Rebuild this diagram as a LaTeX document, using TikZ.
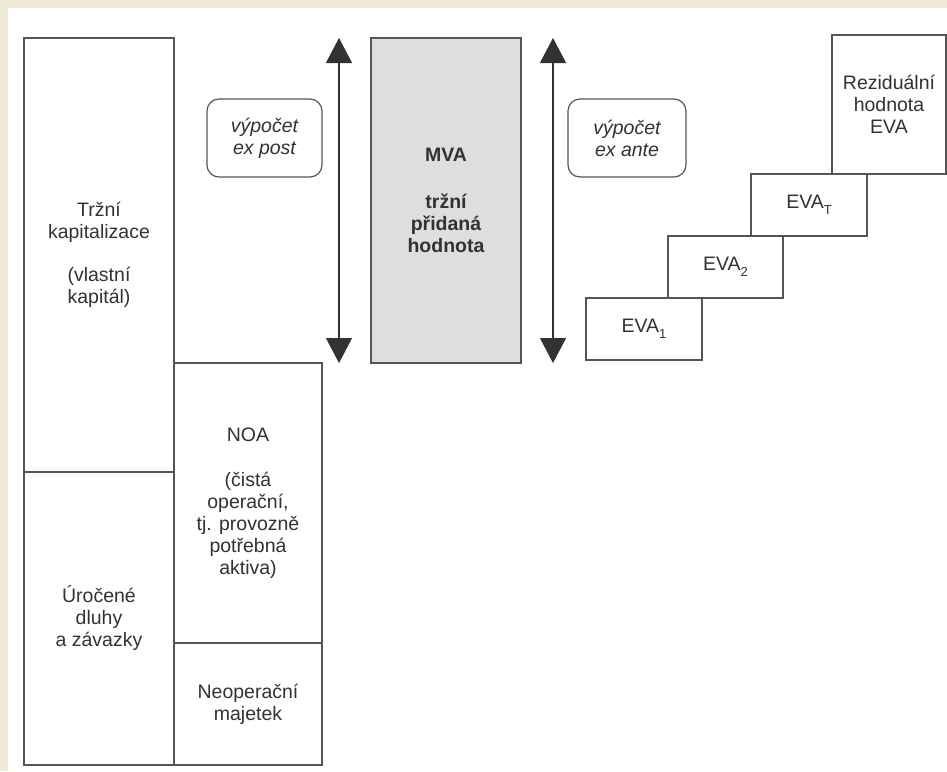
\documentclass[tikz,border=0pt]{standalone}
\usepackage{fontspec}
\setmainfont{Liberation Sans}
\usepackage{xcolor}
\usetikzlibrary{arrows.meta,positioning}

\definecolor{pagebeige}{RGB}{239,233,214}
\definecolor{inkgray}{RGB}{85,85,85}
\definecolor{textgray}{RGB}{50,50,50}
\definecolor{mvafill}{RGB}{222,222,222}
\newcommand{\evasub}[1]{\raisebox{-6pt}{\fontsize{13}{13}\selectfont#1}}

\begin{document}
\begin{tikzpicture}[
  x=1pt,y=-1pt,
  font=\fontsize{19.5}{22}\selectfont,
  text=textgray,
  box/.style={draw=inkgray,line width=1.2pt,align=center,inner sep=0pt},
  calc box/.style={box,rounded corners=12pt,font=\fontsize{19.5}{22}\selectfont\itshape},
  eva box/.style={box,minimum width=116,minimum height=62},
  span/.style={{Triangle[width=26pt,length=25pt]}-{Triangle[width=26pt,length=25pt]},line width=1.2pt,draw=textgray,fill=textgray}
]
\useasboundingbox (0,0) rectangle (947,771);
% scanned page with its beige margin
\fill[pagebeige] (0,0) rectangle (947,771);
\fill[white] (8,8) rectangle (947,771);

% balance sheet: liabilities left, assets right
\node[box,minimum width=150,minimum height=434] (cap) at (99,255) {Tržní\\kapitalizace\\[21pt](vlastní\\kapitál)};
\node[box,minimum width=150,minimum height=293] (debt) at (99,618.5) {Úročené\\dluhy\\a závazky};
\node[box,minimum width=148,minimum height=280] (noa) at (248,503) {NOA\\[23pt](čistá\\operační,\\tj. provozně\\potřebná\\aktiva)};
\node[box,minimum width=148,minimum height=122] (nonop) at (248,704) {Neoperační\\majetek};

% market value added between the two spans
\node[box,fill=mvafill,minimum width=150,minimum height=325,font=\fontsize{19.5}{22}\selectfont\bfseries] (mva) at (446,200.5) {MVA\\[25pt]tržní\\přidaná\\hodnota};

\node[calc box,minimum width=115,minimum height=78] (post) at (264.5,138) {výpočet\\ex post};
\node[calc box,minimum width=118,minimum height=78] (ante) at (627,138) {výpočet\\ex ante};

\coordinate (postTop) at (339,38);
\coordinate (postBot) at (339,363);
\coordinate (anteTop) at (553,38);
\coordinate (anteBot) at (553,363);
\draw[span] (postTop) -- (postBot);
\draw[span] (anteTop) -- (anteBot);

% staircase of future EVA values
\node[eva box] (eva1) at (644,329) {EVA\evasub{1}};
\node[eva box,minimum width=115] (eva2) at (725.5,267) {EVA\evasub{2}};
\node[eva box] (evaT) at (809,205) {EVA\evasub{T}};
\node[box,minimum width=114,minimum height=139] (resid) at (889,104.5) {Reziduální\\hodnota\\EVA};

\end{tikzpicture}
\end{document}
